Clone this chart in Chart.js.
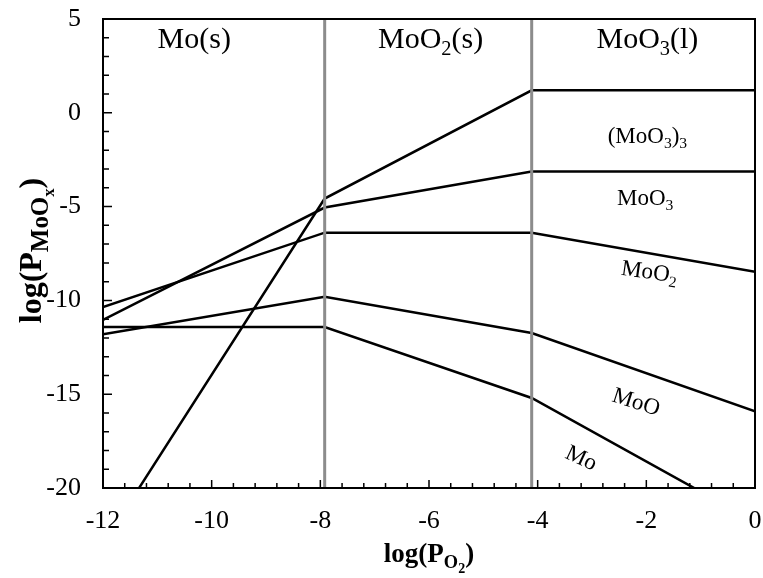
<!DOCTYPE html>
<html>
<head>
<meta charset="utf-8">
<script src="https://cdn.jsdelivr.net/npm/chart.js@4/dist/chart.umd.min.js"></script>
<style>
  html, body { margin: 0; padding: 0; background: #fff; }
  #wrap { width: 763px; height: 578px; }
</style>
</head>
<body>
<div id="wrap"><canvas id="chart"></canvas></div>
<script>
// log(P_O2) break points: start, Mo/MoO2 boundary, MoO2/MoO3(l) boundary, end
const logPO2 = [-12, -7.92, -4.11, 0];

// log(P_MoOx) of each gas species at those break points
const moo3Trimer = [-23.0, -4.57, 1.2, 1.2];
const moo3 = [-11.04, -5.05, -3.13, -3.13];
const moo2 = [-10.35, -6.39, -6.39, -8.48];
const moo = [-11.8, -9.81, -11.74, -15.91];
const mo = [-11.42, -11.42, -15.2, -21.8];

// vertical phase boundaries
const phaseBounds = [-7.92, -4.11];
const yRange = [-20, 5];

const FAM = "'Liberation Serif', 'Times New Roman', serif";

function pts(ys) {
  return logPO2.map((x, i) => ({ x: x, y: ys[i] }));
}

// draw text with sub / sub-sub parts, centred on (x, y)
function richText(ctx, parts, x, y, size, bold, angle, subScale) {
  const scale = [1, subScale || 0.68, 0.52];
  const drop = [0, 0.22, 0.4];
  const w8 = bold ? 'bold ' : '';
  let w = 0;
  parts.forEach(p => {
    ctx.font = w8 + (size * scale[p[1]]) + 'px ' + FAM;
    w += ctx.measureText(p[0]).width;
  });
  ctx.save();
  ctx.translate(x, y);
  ctx.rotate(angle || 0);
  ctx.fillStyle = '#000';
  ctx.textAlign = 'left';
  ctx.textBaseline = 'alphabetic';
  let cx = -w / 2;
  parts.forEach(p => {
    ctx.font = w8 + (size * scale[p[1]]) + 'px ' + FAM;
    ctx.fillText(p[0], cx, size * 0.34 + size * drop[p[1]]);
    cx += ctx.measureText(p[0]).width;
  });
  ctx.restore();
}

const deg = Math.PI / 180;
// labels anchored in data units
const phaseLabels = [
  { parts: [['Mo(s)', 0]], x: -10.32, y: 3.99 },
  { parts: [['MoO', 0], ['2', 1], ['(s)', 0]], x: -5.97, y: 3.99 },
  { parts: [['MoO', 0], ['3', 1], ['(l)', 0]], x: -1.98, y: 3.99 }
];
const speciesLabels = [
  { parts: [['(MoO', 0], ['3', 1], [')', 0], ['3', 1]], x: -1.98, y: -1.18, a: 0 },
  { parts: [['MoO', 0], ['3', 1]], x: -2.02, y: -4.49, a: 0 },
  { parts: [['MoO', 0], ['2', 1]], x: -1.94, y: -8.43, a: 8 },
  { parts: [['MoO', 0]], x: -2.18, y: -15.36, a: 18 },
  { parts: [['Mo', 0]], x: -3.19, y: -18.35, a: 25 }
];

const frame = {
  id: 'frame',
  afterDatasetsDraw(chart) {
    const { ctx, chartArea: a, scales: { x, y } } = chart;
    ctx.save();
    ctx.strokeStyle = '#000';
    ctx.lineWidth = 1.5;
    ctx.beginPath();
    // inward ticks, x every 0.4, y every 1
    for (let i = 0; i <= 30; i++) {
      const px = x.getPixelForValue(-12 + i * 0.4);
      const len = i % 5 === 0 ? 8 : 5;
      ctx.moveTo(px, a.bottom);
      ctx.lineTo(px, a.bottom - len);
    }
    for (let i = 0; i <= 25; i++) {
      const py = y.getPixelForValue(-20 + i);
      const len = i % 5 === 0 ? 9 : 6;
      ctx.moveTo(a.left, py);
      ctx.lineTo(a.left + len, py);
    }
    ctx.stroke();
    ctx.lineWidth = 2;
    ctx.strokeRect(a.left, a.top, a.right - a.left, a.bottom - a.top);
    ctx.restore();

    phaseLabels.forEach(l => richText(ctx, l.parts, x.getPixelForValue(l.x), y.getPixelForValue(l.y), 30, false, 0));
    speciesLabels.forEach(l => richText(ctx, l.parts, x.getPixelForValue(l.x), y.getPixelForValue(l.y), 23, false, l.a * deg));

    // axis titles
    richText(ctx, [['log(P', 0], ['O', 1], ['2', 2], [')', 0]], (a.left + a.right) / 2, 553, 27, true, 0);
    richText(ctx, [['log(P', 0], ['MoO', 1], ['x', 2], [')', 0]], 30, (a.top + a.bottom) / 2 - 3, 32, true, -90 * deg, 0.78);
  }
};

function noPad(s) {
  s.paddingTop = 0; s.paddingBottom = 0; s.paddingLeft = 0; s.paddingRight = 0;
}

const black = { borderColor: '#000', borderWidth: 2.5, pointRadius: 0, showLine: true, fill: false };
const datasets = [
  { label: '(MoO3)3', data: pts(moo3Trimer), ...black },
  { label: 'MoO3', data: pts(moo3), ...black },
  { label: 'MoO2', data: pts(moo2), ...black },
  { label: 'MoO', data: pts(moo), ...black },
  { label: 'Mo', data: pts(mo), ...black }
];
phaseBounds.forEach(b => {
  datasets.unshift({
    label: 'boundary',
    data: yRange.map(v => ({ x: b, y: v })),
    borderColor: '#8c8c8c', borderWidth: 3, pointRadius: 0, showLine: true
  });
});

new Chart(document.getElementById('chart'), {
  type: 'scatter',
  data: { datasets: datasets },
  plugins: [frame],
  options: {
    responsive: true,
    maintainAspectRatio: false,
    animation: false,
    layout: { padding: { top: 19, right: 8, left: 0, bottom: 0 } },
    plugins: { legend: { display: false }, tooltip: { enabled: false } },
    scales: {
      x: {
        type: 'linear', min: -12, max: 0,
        grid: { display: false, drawTicks: false },
        border: { display: false },
        ticks: { stepSize: 2, color: '#000', padding: 18, font: { family: FAM, size: 26 } },
        afterFit: s => { s.height = 90; noPad(s); }
      },
      y: {
        type: 'linear', min: yRange[0], max: yRange[1],
        grid: { display: false, drawTicks: false },
        border: { display: false },
        ticks: { stepSize: 5, color: '#000', padding: 22, font: { family: FAM, size: 26 } },
        afterFit: s => { s.width = 103; noPad(s); }
      }
    }
  }
});
</script>
</body>
</html>
